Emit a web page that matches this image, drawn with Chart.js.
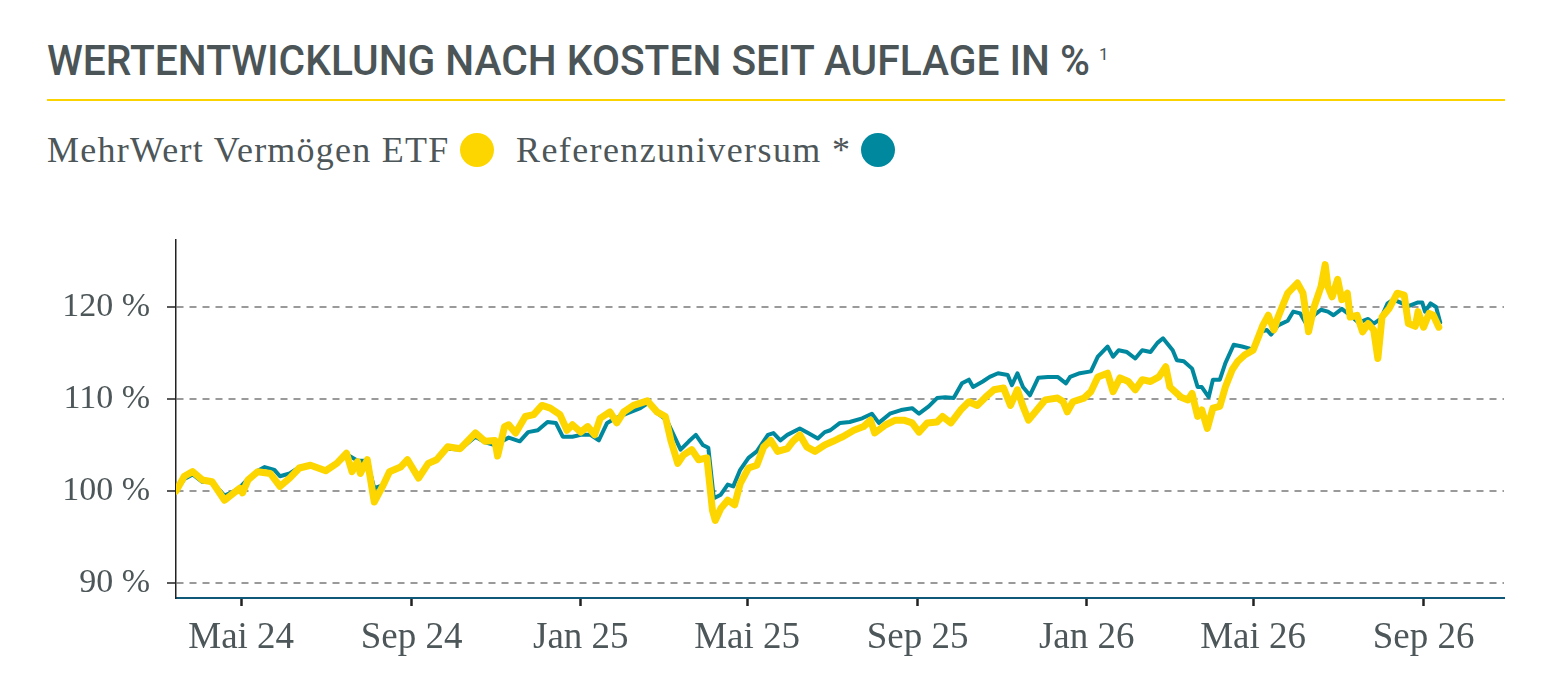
<!DOCTYPE html>
<html lang="de">
<head>
<meta charset="utf-8">
<title>Wertentwicklung</title>
<script src="https://cdn.jsdelivr.net/npm/chart.js@4"></script>
<style>
  html, body { margin: 0; padding: 0; background: #fff; }
  body { width: 1560px; height: 700px; position: relative; overflow: hidden; }
  #titel {
    position: absolute; left: 47px; top: 40px;
    font-family: Roboto, sans-serif; font-weight: 500; font-size: 42px; line-height: 42px;
    color: #4b5557; white-space: nowrap; transform-origin: left top;
  }
  #fussnote {
    position: absolute; left: 1099px; top: 46px;
    font-family: Roboto, sans-serif; font-size: 17px; line-height: 17px; color: #4b5557;
  }
  #linie { position: absolute; left: 47px; top: 99px; width: 1458px; height: 2px; background: #fbd400; }
  .legende {
    position: absolute; top: 130px; height: 40px; display: flex; align-items: center;
    font-family: "Liberation Serif", serif; font-size: 36px; line-height: 40px; color: #4d5658;
    white-space: nowrap;
  }
  .punkt { display: inline-block; width: 34px; height: 34px; border-radius: 50%; margin-left: 10px; }
  #box { position: absolute; left: 0; top: 200px; width: 1560px; height: 500px; }
</style>
</head>
<body>
<div id="titel">WERTENTWICKLUNG NACH KOSTEN SEIT AUFLAGE IN %</div>
<div id="fussnote">1</div>
<div id="linie"></div>
<div class="legende" style="left:47px; letter-spacing:1.25px"><span>MehrWert Vermögen ETF</span><span class="punkt" style="background:#fdd600"></span></div>
<div class="legende" style="left:516px; letter-spacing:1.4px"><span>Referenzuniversum *</span><span class="punkt" style="background:#00889f"></span></div>
<div id="box"><canvas id="myChart"></canvas></div>

<script>
// Startpunkt der Zeitachse (Auflage), x-Werte = Tage seit diesem Datum
const startDatum = '2024-03-15';
const achsenEnde = 958;

const tickDaten = ['2024-05-01', '2024-09-01', '2025-01-01', '2025-05-01', '2025-09-01', '2026-01-01', '2026-05-01', '2026-09-01'];
const tickLabels = ['Mai 24', 'Sep 24', 'Jan 25', 'Mai 25', 'Sep 25', 'Jan 26', 'Mai 26', 'Sep 26'];
const yTicks = [90, 100, 110, 120];

// MehrWert Vermögen ETF
const etfTage = [0, 6, 12, 19, 26, 35, 41, 46, 48, 52, 59, 68, 75, 82, 89, 97, 108, 116, 123, 127,
  131, 133, 138, 143, 149, 154, 162, 167, 175, 182, 188, 196, 205, 216, 223, 230, 232, 237, 240, 245,
  252, 258, 264, 270, 277, 282, 286, 292, 297, 302, 306, 313, 318, 323, 330, 340, 347, 353, 357, 362,
  366, 372, 377, 383, 387, 389, 393, 398, 403, 407, 413, 419, 424, 429, 434, 441, 445, 450, 455, 461,
  468, 474, 478, 481, 489, 496, 501, 504, 512, 519, 525, 531, 536, 542, 549, 553, 559, 566, 572, 578,
  584, 590, 597, 602, 607, 611, 615, 621, 627, 636, 640, 643, 647, 655, 660, 665, 672, 676, 681, 687,
  692, 697, 703, 709, 714, 717, 725, 730, 733, 737, 740, 744, 748, 753, 757, 762, 766, 771, 777, 781,
  784, 788, 792, 795, 799, 802, 809, 813, 817, 821, 826, 829, 831, 834, 838, 841, 845, 847, 852, 856,
  860, 864, 867, 870, 875, 881, 886, 889, 894, 896, 900, 904, 907, 911];
const etfWerte = [100.0, 101.6, 102.1, 101.2, 101.0, 99.0, 99.7, 100.3, 99.8, 101.2, 102.1, 101.9, 100.5, 101.4, 102.5, 102.8, 102.2, 103.0, 104.1, 102.1,
  103.2, 101.9, 103.4, 98.8, 100.5, 102.1, 102.6, 103.4, 101.4, 103.0, 103.4, 104.8, 104.6, 106.3, 105.4, 105.5, 103.8, 107.0, 107.2, 106.3,
  108.1, 108.3, 109.3, 109.0, 108.3, 106.6, 107.2, 106.4, 107.0, 106.1, 107.9, 108.6, 107.4, 108.6, 109.3, 109.8, 108.6, 108.1, 105.5, 103.0,
  103.9, 104.5, 103.4, 103.6, 97.9, 96.8, 98.1, 99.0, 98.5, 100.8, 102.5, 102.8, 104.8, 105.5, 104.3, 104.6, 105.4, 106.1, 104.8, 104.3,
  105.0, 105.4, 105.7, 105.9, 106.6, 107.0, 107.7, 106.3, 107.2, 107.7, 107.7, 107.4, 106.4, 107.4, 107.5, 108.1, 107.4, 108.8, 109.7, 109.3,
  110.2, 111.0, 111.2, 109.3, 111.0, 109.2, 107.7, 108.8, 109.9, 110.1, 109.7, 108.6, 109.7, 110.1, 110.8, 112.4, 112.8, 110.8, 112.3, 111.9,
  111.0, 112.1, 111.9, 112.4, 113.5, 111.3, 110.2, 109.9, 110.6, 108.1, 108.8, 106.8, 109.0, 109.2, 111.3, 113.2, 114.1, 114.8, 115.3, 116.8,
  118.0, 119.1, 117.5, 118.9, 120.4, 121.5, 122.6, 121.5, 117.3, 120.0, 122.2, 124.6, 122.2, 121.1, 123.0, 120.8, 121.5, 118.9, 119.1, 117.3,
  118.2, 117.5, 114.4, 118.9, 119.8, 121.5, 121.3, 118.2, 117.9, 119.5, 117.8, 119.3, 119.1, 117.8];

// Referenzuniversum
const refTage = [0, 6, 12, 19, 26, 35, 41, 46, 52, 59, 64, 71, 75, 82, 89, 97, 108, 116, 123, 131,
  138, 143, 149, 154, 162, 167, 175, 182, 188, 196, 205, 216, 223, 230, 240, 248, 254, 261, 268, 274,
  279, 286, 292, 299, 305, 311, 317, 325, 335, 341, 347, 354, 359, 364, 370, 375, 380, 384, 388, 393,
  398, 402, 407, 413, 419, 427, 431, 436, 441, 450, 456, 463, 468, 472, 479, 486, 495, 502, 507, 515,
  523, 531, 536, 543, 549, 555, 561, 567, 572, 575, 582, 587, 593, 600, 603, 607, 611, 616, 622, 629,
  636, 642, 645, 652, 660, 665, 672, 676, 680, 686, 692, 697, 703, 708, 712, 719, 722, 727, 733, 737,
  740, 745, 748, 753, 757, 763, 769, 774, 777, 782, 787, 790, 795, 802, 806, 811, 816, 821, 826, 831,
  835, 841, 847, 853, 860, 864, 869, 874, 878, 883, 889, 896, 899, 901, 905, 909, 912];
const refWerte = [100.0, 101.3, 101.8, 101.0, 101.0, 99.5, 99.9, 100.4, 101.3, 102.2, 102.6, 102.3, 101.6, 101.9, 102.6, 102.8, 102.3, 103.1, 104.0, 103.3,
  103.3, 100.3, 100.6, 102.0, 102.5, 103.3, 101.7, 102.9, 103.3, 104.6, 104.5, 105.9, 105.3, 105.0, 105.8, 105.4, 106.4, 106.6, 107.5, 107.4,
  105.9, 105.9, 106.1, 106.1, 105.5, 107.4, 107.9, 108.4, 109.0, 109.6, 108.5, 107.7, 106.1, 104.5, 105.4, 106.1, 105.0, 104.7, 99.2, 99.6,
  100.7, 100.5, 102.3, 103.6, 104.3, 106.1, 106.3, 105.5, 106.1, 106.8, 106.3, 105.7, 106.4, 106.6, 107.4, 107.5, 107.9, 108.4, 107.4, 108.4,
  108.8, 109.0, 108.4, 109.2, 110.1, 110.2, 110.1, 111.7, 112.1, 111.3, 111.9, 112.4, 112.8, 112.6, 111.5, 112.8, 111.3, 110.4, 112.3, 112.4,
  112.4, 111.7, 112.4, 112.8, 113.0, 114.6, 115.7, 114.6, 115.3, 115.1, 114.4, 115.3, 115.1, 116.1, 116.6, 115.3, 114.2, 114.1, 113.3, 111.3,
  111.3, 110.2, 112.1, 112.1, 113.9, 115.9, 115.7, 115.5, 115.3, 117.3, 117.5, 117.0, 118.0, 118.5, 119.5, 119.3, 118.0, 119.1, 119.7, 119.5,
  119.1, 119.8, 119.1, 118.3, 118.7, 118.2, 118.7, 120.4, 120.8, 120.5, 120.1, 120.5, 120.5, 119.5, 120.4, 120.0, 118.3];

const tag0 = Date.parse(startDatum);
const tickTage = tickDaten.map(d => Math.round((Date.parse(d) - tag0) / 86400000));

const zuPunkten = (tage, werte) => tage.map((t, i) => ({ x: t, y: werte[i] }));

// Titel auf die Breite aus der Vorlage bringen
const titel = document.getElementById('titel');
titel.style.transform = 'scaleX(' + (1043 / titel.getBoundingClientRect().width) + ')';

const schrift = { family: '"Liberation Serif", serif', weight: 'normal' };

const data = {
  datasets: [
    {
      label: 'MehrWert Vermögen ETF',
      data: zuPunkten(etfTage, etfWerte),
      borderColor: '#fdd600',
      borderWidth: 7,
      order: 0
    },
    {
      label: 'Referenzuniversum *',
      data: zuPunkten(refTage, refWerte),
      borderColor: '#00889f',
      borderWidth: 4,
      order: 1
    }
  ]
};

const options = {
  responsive: true,
  maintainAspectRatio: false,
  animation: false,
  layout: { padding: { top: 40, right: 56, left: 0, bottom: 0 } },
  elements: {
    point: { radius: 0 },
    line: { tension: 0, borderJoinStyle: 'round', borderCapStyle: 'round' }
  },
  plugins: {
    legend: { display: false },
    tooltip: { enabled: false }
  },
  scales: {
    x: {
      type: 'linear',
      min: 0,
      max: achsenEnde,
      afterBuildTicks: (scale) => { scale.ticks = tickTage.map(v => ({ value: v })); },
      afterFit: (scale) => { scale.height = 102; },
      ticks: {
        callback: (value, index) => tickLabels[index],
        font: { ...schrift, size: 37 },
        color: '#4d5658',
        padding: 10,
        maxRotation: 0,
        autoSkip: false
      },
      grid: {
        drawOnChartArea: false,
        drawTicks: true,
        tickLength: 8,
        tickWidth: 2.5,
        tickColor: '#222'
      },
      border: { display: true, color: '#0f5878', width: 2 }
    },
    y: {
      min: 88.37,
      max: 127.28,
      afterBuildTicks: (scale) => { scale.ticks = yTicks.map(v => ({ value: v })); },
      afterFit: (scale) => { scale.width = 176; },
      ticks: {
        callback: (value) => value + ' %',
        font: { ...schrift, size: 34 },
        color: '#4d5658',
        padding: 17
      },
      grid: {
        color: '#9a9a9a',
        lineWidth: 2,
        tickLength: 9,
        tickWidth: 1.5,
        tickColor: '#222',
        tickBorderDash: []
      },
      border: { display: true, color: '#222', width: 1.5, dash: [7, 6] }
    }
  }
};

const myChart = new Chart(document.getElementById('myChart'), { type: 'line', data: data, options: options });
</script>
</body>
</html>
